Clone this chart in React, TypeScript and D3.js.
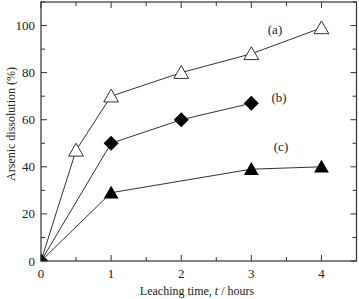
import React from "react";
import * as d3 from "d3";

const timesA = [0, 0.5, 1, 2, 3, 4];
const valuesA = [0, 47, 70, 80, 88, 99];
const timesB = [0, 1, 2, 3];
const valuesB = [0, 50, 60, 67];
const timesC = [0, 1, 3, 4];
const valuesC = [0, 29, 39, 40];
const xTickLabels = [0, 1, 2, 3, 4];
const yTickLabels = [0, 20, 40, 60, 80, 100];
const seriesLabels = ["(a)", "(b)", "(c)"];

const W = 359, H = 299;
const L = 41, R = 356.5, T = 2, B = 261;
const FONT = "'Liberation Serif', 'DejaVu Serif', serif";

export default function App() {
  const x = d3.scaleLinear().domain([0, 4.5]).range([L, R]);
  const y = d3.scaleLinear().domain([0, 110]).range([B, T]);
  const line = d3.line<[number, number]>().x(d => x(d[0])).y(d => y(d[1]));
  const A: [number, number][] = timesA.map((t, i) => [t, valuesA[i]]);
  const Bs: [number, number][] = timesB.map((t, i) => [t, valuesB[i]]);
  const C: [number, number][] = timesC.map((t, i) => [t, valuesC[i]]);
  const triUp = d3.symbol().type(d3.symbolTriangle).size(95)() as string;
  const diamond = "M0,-7.5L7.5,0L0,7.5L-7.5,0Z";
  const xMinor = d3.range(0, 4.51, 0.5);
  const yMinor = d3.range(0, 110.1, 10);
  const stroke = "#333";
  return (
    <div style={{ position: "absolute", left: 0, top: 0 }}>
      <svg width={W} height={H} style={{ display: "block", background: "#fff" }}>
        <defs>
          <clipPath id="plotclip">
            <rect x={L} y={T} width={R - L} height={B - T} />
          </clipPath>
        </defs>
        {xMinor.map(v => {
          const major = Number.isInteger(v);
          const len = major ? 6 : 4;
          return (
            <g key={"xt" + v}>
              <line x1={x(v)} x2={x(v)} y1={B} y2={B - len} stroke={stroke} strokeWidth={1} />
              <line x1={x(v)} x2={x(v)} y1={T} y2={T + len} stroke={stroke} strokeWidth={1} />
            </g>
          );
        })}
        {yMinor.map(v => {
          const major = v % 20 === 0;
          const len = major ? 6 : 4;
          return (
            <g key={"yt" + v}>
              <line x1={L} x2={L + len} y1={y(v)} y2={y(v)} stroke={stroke} strokeWidth={1} />
              <line x1={R} x2={R - len} y1={y(v)} y2={y(v)} stroke={stroke} strokeWidth={1} />
            </g>
          );
        })}
        {xTickLabels.map(v => (
          <text key={"xl" + v} x={x(v)} y={B + 17} textAnchor="middle" fontFamily={FONT} fontSize={13} fill="#222">{v}</text>
        ))}
        {yTickLabels.map(v => (
          <text key={"yl" + v} x={L - 6} y={y(v) + 4.5} textAnchor="end" fontFamily={FONT} fontSize={13} fill="#222">{v}</text>
        ))}
        <g clipPath="url(#plotclip)">
          <path d={line(A) as string} fill="none" stroke={stroke} strokeWidth={1} />
          <path d={line(Bs) as string} fill="none" stroke={stroke} strokeWidth={1} />
          <path d={line(C) as string} fill="none" stroke={stroke} strokeWidth={1} />
          {A.map((d, i) => (
            <path key={"a" + i} d={triUp} transform={`translate(${x(d[0])},${y(d[1]) + 1.5})`} fill="#fff" stroke={stroke} strokeWidth={1} />
          ))}
          {Bs.map((d, i) => (
            <path key={"b" + i} d={diamond} transform={`translate(${x(d[0])},${y(d[1])})`} fill="#000" />
          ))}
          {C.map((d, i) => (
            <path key={"c" + i} d={triUp} transform={`translate(${x(d[0])},${y(d[1]) + 1.5})`} fill="#000" />
          ))}
        </g>
        <rect x={L} y={T} width={R - L} height={B - T} fill="none" stroke={stroke} strokeWidth={1.2} />
        <text x={275} y={34} textAnchor="middle" fontFamily={FONT} fontSize={13} fill="#222">{seriesLabels[0]}</text>
        <text x={279} y={102} textAnchor="middle" fontFamily={FONT} fontSize={13} fill="#222">{seriesLabels[1]}</text>
        <text x={281} y={151} textAnchor="middle" fontFamily={FONT} fontSize={13} fill="#222">{seriesLabels[2]}</text>
        <text x={197} y={295} textAnchor="middle" fontFamily={FONT} fontSize={12} fill="#222">
          Leaching time, <tspan fontStyle="italic">t</tspan> / hours
        </text>
        <text transform={`translate(15,124) rotate(-90)`} textAnchor="middle" fontFamily={FONT} fontSize={12} fill="#222">
          Arsenic dissolution (%)
        </text>
      </svg>
    </div>
  );
}
